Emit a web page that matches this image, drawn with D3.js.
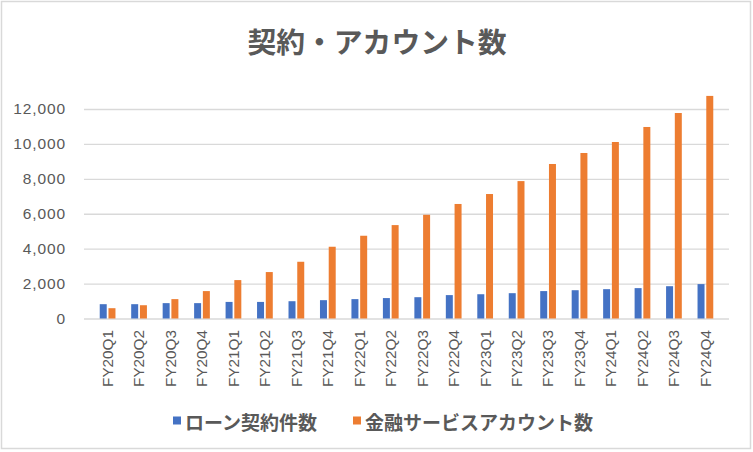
<!DOCTYPE html>
<html>
<head>
<meta charset="utf-8">
<script src="https://cdn.jsdelivr.net/npm/d3@7"></script>
<style>
  html, body { margin: 0; padding: 0; background: #fff; }
  svg { display: block; }
</style>
</head>
<body>
<svg id="chart" width="753" height="452"></svg>
<script>
var categories = ["FY20Q1", "FY20Q2", "FY20Q3", "FY20Q4", "FY21Q1", "FY21Q2", "FY21Q3", "FY21Q4",
  "FY22Q1", "FY22Q2", "FY22Q3", "FY22Q4", "FY23Q1", "FY23Q2", "FY23Q3", "FY23Q4",
  "FY24Q1", "FY24Q2", "FY24Q3", "FY24Q4"];
var loanCounts = [820, 820, 880, 880, 950, 950, 990, 1050, 1110, 1170,
  1220, 1340, 1390, 1450, 1570, 1620, 1680, 1740, 1850, 1970];
var accountCounts = [590, 760, 1110, 1570, 2200, 2660, 3250, 4110, 4740, 5350,
  5940, 6560, 7130, 7870, 8850, 9480, 10110, 10970, 11770, 12750];
var seriesNames = ["ローン契約件数", "金融サービスアカウント数"];
var seriesColors = ["#4472C4", "#ED7D31"];
var yTicks = [0, 2000, 4000, 6000, 8000, 10000, 12000];
var chartTitle = "契約・アカウント数";

(function(){
  var svg, width, height, margin, x, x1, y, chart, rows;
  var textColor = "#595959",
    gridColor = "#d9d9d9",
    cjkFont = "'Noto Sans CJK JP', 'Noto Sans', sans-serif",
    numFont = "'Liberation Sans', Arial, sans-serif";

  function init(){
    initVariables();
    drawFrame();
    drawChart();
    addAxis();
    drawBars();
    drawLegend();
  }

  function initVariables(){
    svg = d3.select("#chart");
    // plot area
    margin = {top: 109, right: 24, bottom: 133.5, left: 84};
    width = 753 - margin.left - margin.right;
    height = 452 - margin.top - margin.bottom;

    rows = categories.map(function(c, i){
      return {cat: c, values: [loanCounts[i], accountCounts[i]]};
    });

    x = d3.scaleBand().domain(categories).range([0, width]).padding(0.5);
    x1 = d3.scaleBand().domain([0, 1]).range([0, x.bandwidth()]).paddingInner(0.2);
    y = d3.scaleLinear().domain([0, 12000]).range([height, 0]);
  }

  function drawFrame(){
    svg.append("rect")
      .attr("x", 1.5).attr("y", 1.5)
      .attr("width", 749).attr("height", 447)
      .attr("fill", "#fff")
      .attr("stroke", gridColor)
      .attr("stroke-width", 1.5);

    svg.append("text")
      .attr("x", 377)
      .attr("y", 40.5)
      .attr("text-anchor", "middle")
      .attr("dominant-baseline", "central")
      .attr("font-family", cjkFont)
      .attr("font-size", 28.8)
      .attr("font-weight", 700)
      .attr("fill", textColor)
      .text(chartTitle);
  }

  function drawChart(){
    chart = svg.append("g")
      .attr("transform", "translate(" + margin.left + "," + margin.top + ")");
  }

  function addAxis(){
    var yAxis = d3.axisLeft(y).tickValues(yTicks).tickSize(-width).tickPadding(18)
      .tickFormat(d3.format(","));

    var gy = chart.append("g").attr("class", "y axis").call(yAxis);
    gy.select(".domain").remove();
    gy.selectAll(".tick line").attr("stroke", gridColor).attr("stroke-width", 1.3);
    gy.selectAll(".tick text")
      .attr("fill", textColor)
      .attr("font-family", numFont)
      .attr("font-size", 15.5)
      .attr("letter-spacing", 0.9);

    var xAxis = d3.axisBottom(x).tickSize(0).tickPadding(0);
    var gx = chart.append("g")
      .attr("class", "x axis")
      .attr("transform", "translate(0," + height + ")")
      .call(xAxis);
    gx.select(".domain").remove();
    gx.selectAll(".tick text")
      .attr("transform", "rotate(-90)")
      .attr("x", -11.5)
      .attr("y", 0)
      .attr("dy", "0.35em")
      .attr("text-anchor", "end")
      .attr("fill", textColor)
      .attr("font-family", numFont)
      .attr("font-size", 15.3);
  }

  function drawBars(){
    var groups = chart.append("g").attr("class", "bars")
      .selectAll("g")
      .data(rows)
      .join("g")
        .attr("transform", function(d){ return "translate(" + x(d.cat) + ",0)"; });

    groups.selectAll("rect")
      .data(function(d){ return d.values.map(function(v, i){ return {s: i, v: v}; }); })
      .join("rect")
        .attr("x", function(d){ return x1(d.s); })
        .attr("y", function(d){ return y(d.v); })
        .attr("width", x1.bandwidth())
        .attr("height", function(d){ return height - y(d.v); })
        .attr("fill", function(d){ return seriesColors[d.s]; });
  }

  function drawLegend(){
    // legend spots
    var spots = [173, 353];
    var legend = svg.append("g").attr("class", "legend")
      .selectAll("g")
      .data(seriesNames)
      .join("g")
        .attr("transform", function(d, i){ return "translate(" + spots[i] + ",421)"; });

    legend.append("rect")
      .attr("x", 0).attr("y", -4.5)
      .attr("width", 8).attr("height", 8)
      .attr("fill", function(d, i){ return seriesColors[i]; });

    legend.append("text")
      .attr("x", 12)
      .attr("y", 0)
      .attr("dominant-baseline", "central")
      .attr("font-family", cjkFont)
      .attr("font-size", 19)
      .attr("font-weight", 700)
      .attr("fill", textColor)
      .text(function(d){ return d; });
  }

  init();
})();
</script>
</body>
</html>
